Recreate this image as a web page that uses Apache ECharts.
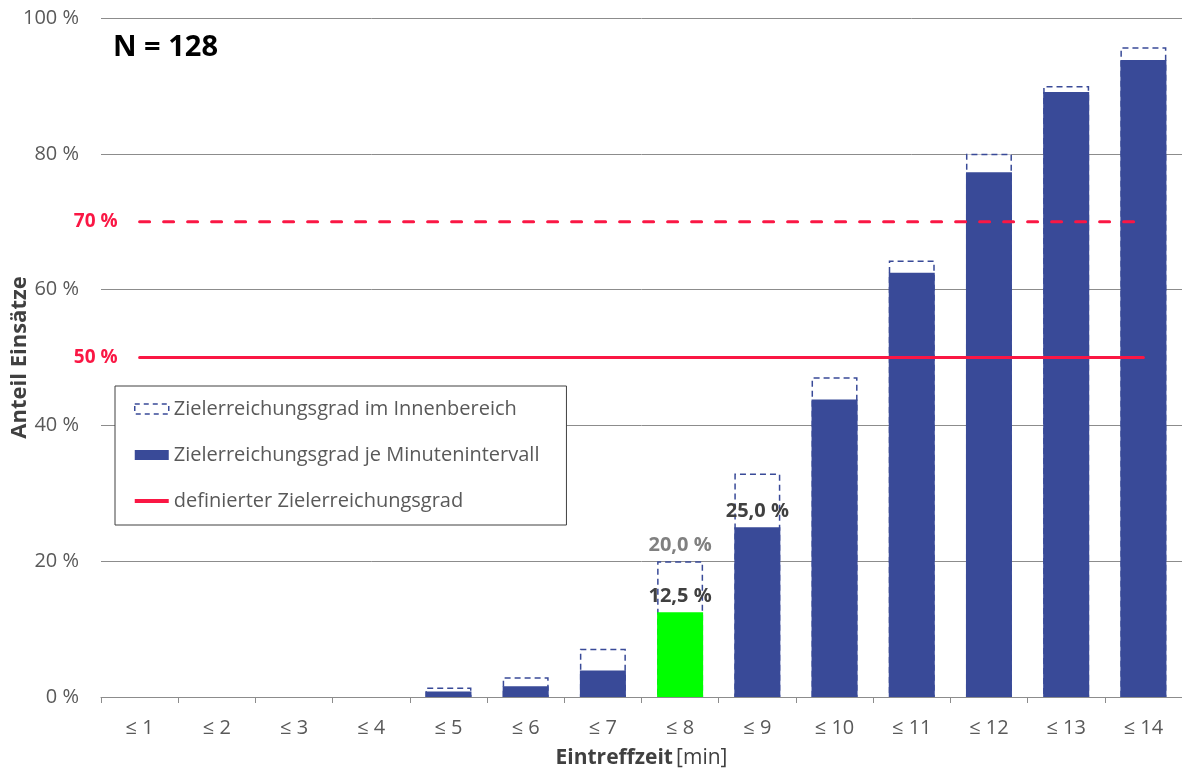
<!DOCTYPE html>
<html>
<head>
<meta charset="utf-8">
<script src="https://cdn.jsdelivr.net/npm/echarts@6/dist/echarts.min.js"></script>
<style>
html,body{margin:0;padding:0;background:#fff;}
#chart{width:1182px;height:772px;}
</style>
</head>
<body>
<div id="chart"></div>
<script>
const categories = ['≤ 1','≤ 2','≤ 3','≤ 4','≤ 5','≤ 6','≤ 7','≤ 8','≤ 9','≤ 10','≤ 11','≤ 12','≤ 13','≤ 14'];
const innerAreaValues = [0, 0, 0, 0, 1.4, 2.9, 7.1, 20.0, 32.9, 47.1, 64.3, 80.0, 90.0, 95.7];
const intervalValues = [0, 0, 0, 0, 0.8, 1.6, 3.9, 12.5, 25.0, 43.8, 62.5, 77.3, 89.1, 93.8];
const targetValues = [50, 70];
const yTicks = [0, 20, 40, 60, 80, 100];
const highlightIndex = 7;
const innerLabelIdx = [7];
const intervalLabelIdx = [7, 8];

const FONT = 'Open Sans';
const BLUE = '#394A98';
const RED = '#FA1744';
const fmt = v => v.toFixed(1).replace('.', ',') + ' %';

const innerData = innerAreaValues.map((v, i) => ({
  value: v === 0 ? null : v,
  label: { show: innerLabelIdx.includes(i) }
}));
const intervalData = intervalValues.map((v, i) => ({
  value: v === 0 ? null : v,
  itemStyle: i === highlightIndex ? { color: '#00FF00' } : undefined,
  label: { show: intervalLabelIdx.includes(i) }
}));
const lineData = t => categories.map(() => t);
const lineLabel = t => ({
  symbol: 'circle',
  symbolSize: 0,
  silent: true,
  itemStyle: { color: 'rgba(0,0,0,0)' },
  label: {
    show: true, position: 'left', distance: 22,
    formatter: t + ' %',
    fontFamily: FONT, fontSize: 19, fontWeight: 'bold', color: RED
  },
  data: [{ coord: [0, t] }]
});

const chart = echarts.init(document.getElementById('chart'), null, { renderer: 'canvas' });
chart.setOption({
  animation: false,
  textStyle: { fontFamily: FONT },
  title: {
    text: 'N = 128',
    left: 108, top: 28,
    textStyle: { fontFamily: FONT, fontSize: 29, fontWeight: 'bold', color: '#000' }
  },
  grid: { left: 101, right: 0, top: 18, bottom: 75, outerBoundsMode: 'none', containLabel: false },
  legend: {
    orient: 'vertical',
    left: 115, top: 386,
    padding: [12, 27, 13, 19],
    backgroundColor: '#fff',
    borderColor: '#404040',
    borderWidth: 1,
    itemWidth: 34, itemHeight: 10,
    itemGap: 24,
    textStyle: { fontFamily: FONT, fontSize: 20, color: '#595959', lineHeight: 22 },
    data: [
      { name: 'Zielerreichungsgrad im Innenbereich', icon: 'rect',
        itemStyle: { color: '#fff', borderColor: BLUE, borderWidth: 1.5, borderType: [5, 4] } },
      { name: 'Zielerreichungsgrad je Minutenintervall', icon: 'rect', itemStyle: { color: BLUE } },
      { name: 'definierter Zielerreichungsgrad', icon: 'path://M0,0L34,0L34,4L0,4Z', itemStyle: { color: RED } }
    ]
  },
  xAxis: {
    type: 'category',
    data: categories,
    boundaryGap: true,
    axisLine: { lineStyle: { color: '#8c8c8c', width: 1 } },
    axisTick: { show: true, length: 6, lineStyle: { color: '#8c8c8c' } },
    axisLabel: { color: '#595959', fontSize: 20, fontFamily: FONT, margin: 21 },
    name: '{b|Eintreffzeit} {n|[min]}',
    nameLocation: 'middle',
    nameGap: 51,
    nameMoveOverlap: false,
    nameTextStyle: {
      rich: {
        b: { fontFamily: FONT, fontSize: 21, fontWeight: 'bold', color: '#404040' },
        n: { fontFamily: FONT, fontSize: 21, color: '#404040' }
      }
    }
  },
  yAxis: {
    type: 'value',
    min: 0, max: 100, interval: 20,
    axisLine: { show: false },
    axisTick: { show: false },
    axisLabel: {
      color: '#595959', fontSize: 20, fontFamily: FONT, margin: 22,
      formatter: v => yTicks.includes(v) ? v + ' %' : ''
    },
    splitLine: { lineStyle: { color: '#8c8c8c', width: 1 } },
    name: 'Anteil Einsätze',
    nameLocation: 'middle',
    nameGap: 70,
    nameMoveOverlap: false,
    nameTextStyle: { fontFamily: FONT, fontSize: 22, fontWeight: 'bold', color: '#404040' }
  },
  series: [
    {
      name: 'Zielerreichungsgrad im Innenbereich',
      type: 'bar',
      data: innerData,
      barWidth: 46,
      barGap: '-100%',
      itemStyle: { color: '#fff', borderColor: BLUE, borderWidth: 1.5, borderType: [6, 4] },
      label: {
        position: 'top', distance: 6,
        formatter: p => fmt(p.value),
        fontFamily: FONT, fontSize: 20, fontWeight: 'bold', color: '#808080'
      },
      z: 2
    },
    {
      name: 'Zielerreichungsgrad je Minutenintervall',
      type: 'bar',
      data: intervalData,
      barWidth: 46,
      barGap: '-100%',
      itemStyle: { color: BLUE },
      label: {
        position: 'top', distance: 6,
        formatter: p => fmt(p.value),
        fontFamily: FONT, fontSize: 20, fontWeight: 'bold', color: '#404040'
      },
      z: 3
    },
    {
      name: 'definierter Zielerreichungsgrad',
      type: 'line',
      data: lineData(targetValues[0]),
      symbol: 'none',
      lineStyle: { color: RED, width: 3, cap: 'round' },
      itemStyle: { color: RED },
      markPoint: lineLabel(targetValues[0]),
      z: 4
    },
    {
      name: 'definierter Zielerreichungsgrad',
      type: 'line',
      data: lineData(targetValues[1]),
      symbol: 'none',
      lineStyle: { color: RED, width: 3, type: [10, 14], cap: 'round' },
      itemStyle: { color: RED },
      markPoint: lineLabel(targetValues[1]),
      z: 4
    }
  ]
});
</script>
</body>
</html>
